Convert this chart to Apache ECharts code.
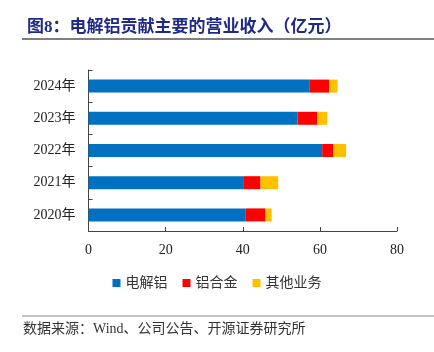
<!DOCTYPE html>
<html>
<head>
<meta charset="utf-8">
<script src="https://cdn.jsdelivr.net/npm/echarts@6/dist/echarts.min.js"></script>
<style>
  html, body { margin: 0; padding: 0; background: #fff; }
  #chart { width: 434px; height: 352px; }
</style>
</head>
<body>
<div id="chart"></div>
<script>
  // 年份 (bottom to top)
  const years = ['2020年', '2021年', '2022年', '2023年', '2024年']
  // 营业收入（亿元）
  const electrolyticAl = [40.8, 40.1, 60.6, 54.2, 57.4]
  const alAlloy = [5.1, 4.5, 2.8, 5.1, 5.0]
  const otherBiz = [1.6, 4.6, 3.4, 2.6, 2.2]
  const xTicks = [0, 20, 40, 60, 80]

  const serif = '"Liberation Serif", "Noto Sans CJK SC", serif'
  const chart = echarts.init(document.getElementById('chart'))

  const barSeries = (name, data, color) => ({
    name: name,
    type: 'bar',
    stack: 'total',
    barWidth: 13,
    data: data,
    itemStyle: { color: color },
    emphasis: { disabled: true }
  })

  chart.setOption({
    animation: false,
    title: {
      text: '图8：电解铝贡献主要的营业收入（亿元）',
      left: 22,
      top: 14,
      textStyle: {
        fontFamily: serif,
        fontSize: 17,
        fontWeight: 'bold',
        color: '#1f2a86'
      }
    },
    graphic: [
      { type: 'line', shape: { x1: 22, y1: 39, x2: 434, y2: 39 }, style: { stroke: '#555', lineWidth: 1.5 } },
      { type: 'line', shape: { x1: 22, y1: 316, x2: 434, y2: 316 }, style: { stroke: '#888', lineWidth: 1.2 } },
      {
        type: 'text', left: 23, top: 322,
        style: { text: '数据来源：Wind、公司公告、开源证券研究所', font: '14px ' + serif, fill: '#333' }
      }
    ],
    legend: {
      top: 271,
      left: 'center',
      itemWidth: 8,
      itemHeight: 8,
      itemGap: 15,
      icon: 'rect',
      textStyle: { fontFamily: serif, fontSize: 14, color: '#333' },
      data: ['电解铝', '铝合金', '其他业务']
    },
    grid: { left: 88.5, right: 37, top: 70, bottom: 121 },
    xAxis: {
      type: 'value',
      min: xTicks[0],
      max: xTicks[xTicks.length - 1],
      interval: 20,
      axisLine: { show: true, lineStyle: { color: '#444' } },
      axisTick: { show: true, inside: true, length: 4, lineStyle: { color: '#444' } },
      splitLine: { show: false },
      axisLabel: { margin: 12, fontFamily: serif, fontSize: 14, color: '#222' }
    },
    yAxis: {
      type: 'category',
      data: years,
      axisLine: { show: true, lineStyle: { color: '#444' } },
      axisTick: { show: true, inside: true, length: 4, lineStyle: { color: '#444' } },
      axisLabel: { margin: 13, fontFamily: serif, fontSize: 14, color: '#222' }
    },
    series: [
      barSeries('电解铝', electrolyticAl, '#0070c0'),
      barSeries('铝合金', alAlloy, '#ff0000'),
      barSeries('其他业务', otherBiz, '#ffc000')
    ]
  })
</script>
</body>
</html>
